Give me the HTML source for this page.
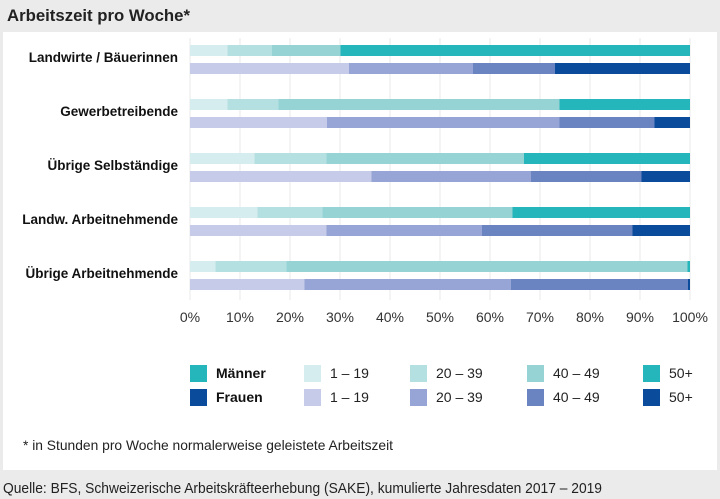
<!DOCTYPE html>
<html><head><meta charset="utf-8"><style>
html,body{margin:0;padding:0;width:720px;height:499px;background:#ebebeb;overflow:hidden}
svg{display:block}
text{font-family:"Liberation Sans Narrow","Liberation Sans",sans-serif}
</style></head><body>
<svg id="chart" width="720" height="499">
<text x="7" y="21" font-size="17" font-weight="bold" fill="#222" textLength="183" lengthAdjust="spacingAndGlyphs">Arbeitszeit pro Woche*</text>
<rect x="3" y="32" width="714" height="438" fill="#fff"/>
<g id="grid"></g><g id="bars"></g><g id="labels"></g><g id="ticks"></g><g id="legend"></g>
<text x="23" y="450" font-size="14" fill="#222" textLength="370" lengthAdjust="spacingAndGlyphs">* in Stunden pro Woche normalerweise geleistete Arbeitszeit</text>
<text x="3" y="493" font-size="15" fill="#222" textLength="599" lengthAdjust="spacingAndGlyphs">Quelle: BFS, Schweizerische Arbeitskräfteerhebung (SAKE), kumulierte Jahresdaten 2017 – 2019</text>
</svg>
<script>
const categories=["Landwirte / Bäuerinnen","Gewerbetreibende","Übrige Selbständige","Landw. Arbeitnehmende","Übrige Arbeitnehmende"];
const menValues=[[7.5,8.9,13.7,69.9],[7.5,10.2,56.2,26.1],[12.9,14.4,39.5,33.2],[13.5,13,38,35.5],[5.1,14.2,80.2,0.5]];
const womenValues=[[31.8,24.8,16.4,27],[27.4,46.5,19,7.1],[36.3,31.9,22.1,9.7],[27.3,31.1,30.1,11.5],[22.9,41.3,35.4,0.4]];
const tickValues=[0,10,20,30,40,50,60,70,80,90,100];
const classLabels=["1 – 19","20 – 39","40 – 49","50+"];
const menColors=["#d6edef","#b5e0e2","#96d3d5","#25b6bb"];
const womenColors=["#c5cbe8","#96a5d6","#6a84c2","#0a4b9c"];
const NS="http://www.w3.org/2000/svg";
const x=v=>190+v*5;
const rowY=i=>45+i*54;
function mk(tag,attrs,parent,txt){const e=document.createElementNS(NS,tag);for(const k in attrs)e.setAttribute(k,attrs[k]);if(txt!==undefined)e.textContent=txt;document.getElementById(parent).appendChild(e);return e;}
tickValues.forEach(t=>{
 const l=mk("line",{x1:x(t),x2:x(t),y1:38,y2:300,stroke:"#e8e8ea","stroke-width":1},"grid");
 
 
 const tx=mk("text",{x:x(t),y:322,"font-size":14,fill:"#333","text-anchor":"middle"},"ticks",t+"%");
 
 
});
categories.forEach((c,i)=>{
 const lb=mk("text",{x:178,y:rowY(i)+17,"font-size":13.5,"font-weight":"bold",fill:"#111","text-anchor":"end"},"labels",c);
 
 
 [[menValues,menColors,0,'men'],[womenValues,womenColors,18,'women']].forEach(([vals,cols,dy,nm])=>{
  let acc=0;
  vals[i].forEach((v,k)=>{
   const r=mk("rect",{x:x(acc),y:rowY(i)+dy,width:x(acc+v)-x(acc),height:11,fill:cols[k]},"bars");
   
   
   acc+=v;
  });
 });
});
[["Männer",menColors,365],["Frauen",womenColors,389]].forEach(([nm,cols,y])=>{
 const s=mk("rect",{x:190,y:y,width:17,height:17,fill:cols[3]},"legend");
 
 
 const t=mk("text",{x:216,y:y+13,"font-size":14,"font-weight":"bold",fill:"#111"},"legend",nm);
 
 
 const xs=[304,410,527,643];
 classLabels.forEach((cl,k)=>{
  const r=mk("rect",{x:xs[k],y:y,width:17,height:17,fill:cols[k]},"legend");
  
  
  const tt=mk("text",{x:xs[k]+26,y:y+13,"font-size":14,fill:"#222"},"legend",cl);
  
  
 });
});
</script>
</body></html>
